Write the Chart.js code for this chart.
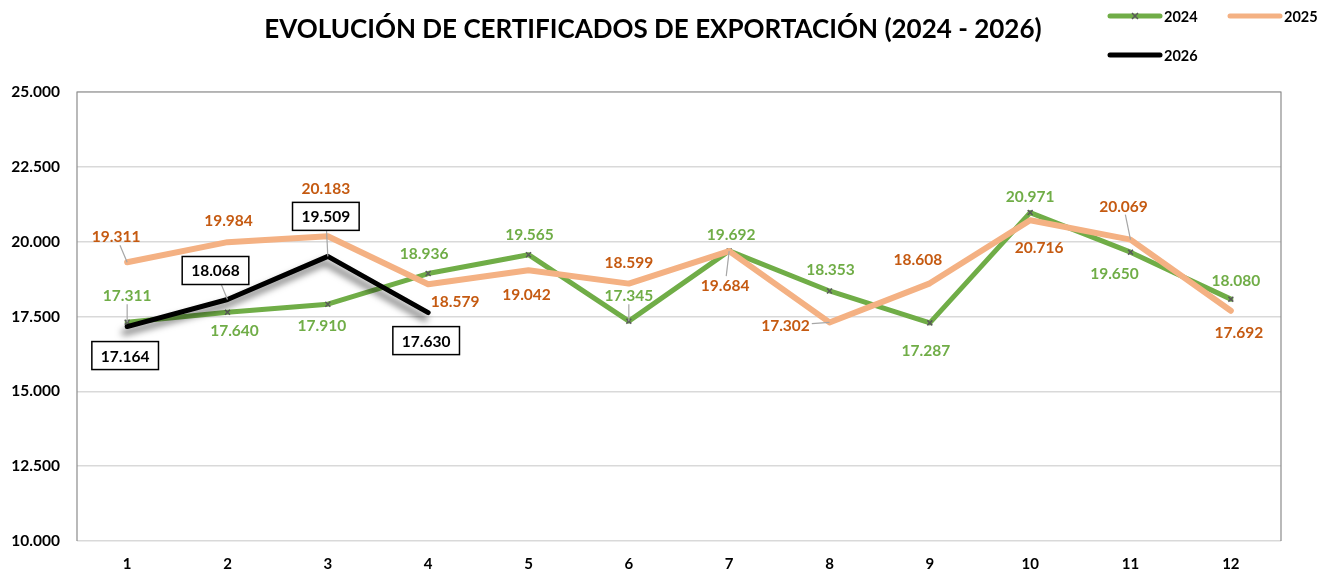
<!DOCTYPE html>
<html>
<head>
<meta charset="utf-8">
<title>Evolución de certificados de exportación</title>
<script src="https://cdn.jsdelivr.net/npm/chart.js@4.4.1/dist/chart.umd.min.js"></script>
<style>
  html, body { margin: 0; padding: 0; background: #fff; }
  canvas { display: block; }
</style>
</head>
<body>
<canvas id="chart" width="1330" height="569"></canvas>
<script>
// datos
const categories = ['1', '2', '3', '4', '5', '6', '7', '8', '9', '10', '11', '12'];
const serie2024 = [17311, 17640, 17910, 18936, 19565, 17345, 19692, 18353, 17287, 20971, 19650, 18080];
const serie2025 = [19311, 19984, 20183, 18579, 19042, 18599, 19684, 17302, 18608, 20716, 20069, 17692];
const serie2026 = [17164, 18068, 19509, 17630];
const yTicks = [10000, 12500, 15000, 17500, 20000, 22500, 25000];

const FONT = 'Lato, "Open Sans", sans-serif';

// posicion de las etiquetas respecto al punto: [dx, dy, linea guia]
const labelPos2024 = [[0, -27, 1], [7, 18], [-6, 21], [-4, -21], [1, -21], [0, -26, 1],
  [2, -17], [1, -22], [-4, 27], [0, -17], [-16, 21], [5, -19]];
const labelPos2025 = [[-11, -26, 1], [1, -22], [-2, -48], [27, 17], [-2, 24], [0, -22],
  [-4, 34, 1], [-44, 3, 1], [-12, -24], [9, 27], [-7, -34, 1], [8, 21]];
const labelPos2026 = [[-2, 29], [-12, -29, 1], [-2, -40, 1], [-2, 28]];

const fmt = (n) => String(n).replace(/\B(?=(\d{3})+(?!\d))/g, '.');

// etiquetas de datos con lineas guia
const dataLabels = {
  id: 'dataLabels',
  afterDatasetsDraw(chart) {
    const ctx = chart.ctx;
    ctx.save();
    ctx.font = 'bold 15.5px ' + FONT;
    ctx.textAlign = 'center';
    ctx.textBaseline = 'middle';
    chart.data.datasets.forEach((ds, i) => {
      const meta = chart.getDatasetMeta(i);
      meta.data.forEach((el, j) => {
        const off = ds.labelPos[j];
        const x = el.x + off[0];
        const y = el.y + off[1];
        const text = fmt(ds.data[j]);
        const w = ctx.measureText(text).width;
        const hw = ds.boxed ? w / 2 + 9 : w / 2 + 2;
        const hh = ds.boxed ? 14 : 9;
        if (off[2]) {
          const dx = el.x - x, dy = el.y - y;
          const t = Math.min(dx ? hw / Math.abs(dx) : Infinity, dy ? hh / Math.abs(dy) : Infinity);
          ctx.strokeStyle = '#a6a6a6';
          ctx.lineWidth = 1.2;
          ctx.beginPath();
          ctx.moveTo(x + dx * t, y + dy * t);
          ctx.lineTo(el.x, el.y);
          ctx.stroke();
        }
        if (ds.boxed) {
          ctx.fillStyle = '#fff';
          ctx.fillRect(x - hw, y - hh, hw * 2, hh * 2);
          ctx.strokeStyle = '#000';
          ctx.lineWidth = 1.5;
          ctx.strokeRect(x - hw, y - hh, hw * 2, hh * 2);
        }
        ctx.fillStyle = ds.labelColor;
        ctx.fillText(text, x, y + 1);
      });
    });
    ctx.restore();
  }
};

// sombra para la serie 2026
const shadowLine = {
  id: 'shadowLine',
  beforeDatasetDraw(chart, args) {
    if (!chart.data.datasets[args.index].shadow) return;
    const ctx = chart.ctx;
    ctx.save();
    ctx.shadowColor = 'rgba(0,0,0,0.6)';
    ctx.shadowBlur = 7;
    ctx.shadowOffsetX = -3;
    ctx.shadowOffsetY = 6;
  },
  afterDatasetDraw(chart, args) {
    if (!chart.data.datasets[args.index].shadow) return;
    chart.ctx.restore();
  }
};

// titulo, leyenda y borde del area
const frame = {
  id: 'frame',
  beforeDatasetsDraw(chart) {
    const { ctx, chartArea: a } = chart;
    ctx.save();
    ctx.strokeStyle = '#8c8c8c';
    ctx.lineWidth = 1.2;
    ctx.beginPath();
    ctx.moveTo(a.left, a.bottom);
    ctx.lineTo(a.left, a.top);
    ctx.lineTo(a.right, a.top);
    ctx.lineTo(a.right, a.bottom);
    ctx.stroke();
    ctx.restore();
  },
  afterDraw(chart) {
    const ctx = chart.ctx;
    ctx.save();
    ctx.fillStyle = '#000';
    ctx.font = 'bold 26px ' + FONT;
    ctx.textAlign = 'center';
    ctx.textBaseline = 'middle';
    ctx.fillText('EVOLUCIÓN DE CERTIFICADOS DE EXPORTACIÓN (2024 - 2026)', 653, 30);

    const spots = [[1110, 16], [1230, 16], [1110, 55]];
    ctx.font = 'bold 14.5px ' + FONT;
    ctx.textAlign = 'left';
    chart.data.datasets.forEach((ds, i) => {
      const [lx, ly] = spots[i];
      ctx.strokeStyle = ds.borderColor;
      ctx.lineWidth = 5;
      ctx.lineCap = 'round';
      ctx.beginPath();
      ctx.moveTo(lx, ly);
      ctx.lineTo(lx + 50, ly);
      ctx.stroke();
      if (ds.pointRadius > 0) {
        ctx.strokeStyle = ds.pointBorderColor;
        ctx.lineWidth = 1.5;
        ctx.lineCap = 'butt';
        ctx.beginPath();
        ctx.moveTo(lx + 22, ly - 3); ctx.lineTo(lx + 28, ly + 3);
        ctx.moveTo(lx + 28, ly - 3); ctx.lineTo(lx + 22, ly + 3);
        ctx.stroke();
      }
      ctx.fillStyle = '#000';
      ctx.fillText(ds.label, lx + 54, ly + 1);
    });
    ctx.restore();
  }
};

new Chart(document.getElementById('chart'), {
  type: 'line',
  data: {
    labels: categories,
    datasets: [
      {
        label: '2024', data: serie2024, labelPos: labelPos2024,
        borderColor: '#70ad47', borderWidth: 5, labelColor: '#70ad47',
        pointStyle: 'crossRot', pointRadius: 3.5, pointBorderColor: '#595959',
        pointBorderWidth: 1.5, order: 3
      },
      {
        label: '2025', data: serie2025, labelPos: labelPos2025,
        borderColor: '#f4b183', borderWidth: 6, labelColor: '#c55a11',
        pointRadius: 0, order: 2
      },
      {
        label: '2026', data: serie2026, labelPos: labelPos2026,
        borderColor: '#000000', borderWidth: 5, labelColor: '#000',
        pointRadius: 0, boxed: true, shadow: true, order: 1
      }
    ]
  },
  options: {
    responsive: false,
    animation: false,
    devicePixelRatio: 1,
    layout: { padding: { top: 92, right: 49, left: 0, bottom: 0 } },
    elements: { line: { tension: 0, borderCapStyle: 'round', borderJoinStyle: 'round' } },
    plugins: {
      legend: { display: false },
      title: { display: false },
      tooltip: { enabled: false }
    },
    scales: {
      x: {
        offset: true,
        grid: { display: false, drawTicks: false },
        border: { display: false },
        ticks: { color: '#000', padding: 14, font: { family: FONT, size: 15, weight: 'bold' } },
        afterFit(scale) { scale.height = 28; }
      },
      y: {
        min: 10000,
        max: 25000,
        afterBuildTicks(scale) { scale.ticks = yTicks.map(v => ({ value: v })); },
        grid: { color: '#d9d9d9', lineWidth: 1.5, drawTicks: false },
        border: { display: false },
        ticks: {
          color: '#000', padding: 17,
          font: { family: FONT, size: 15.5, weight: 'bold' },
          callback: (v) => fmt(v)
        },
        afterFit(scale) { scale.width = 77; }
      }
    }
  },
  plugins: [shadowLine, dataLabels, frame]
});
</script>
</body>
</html>
